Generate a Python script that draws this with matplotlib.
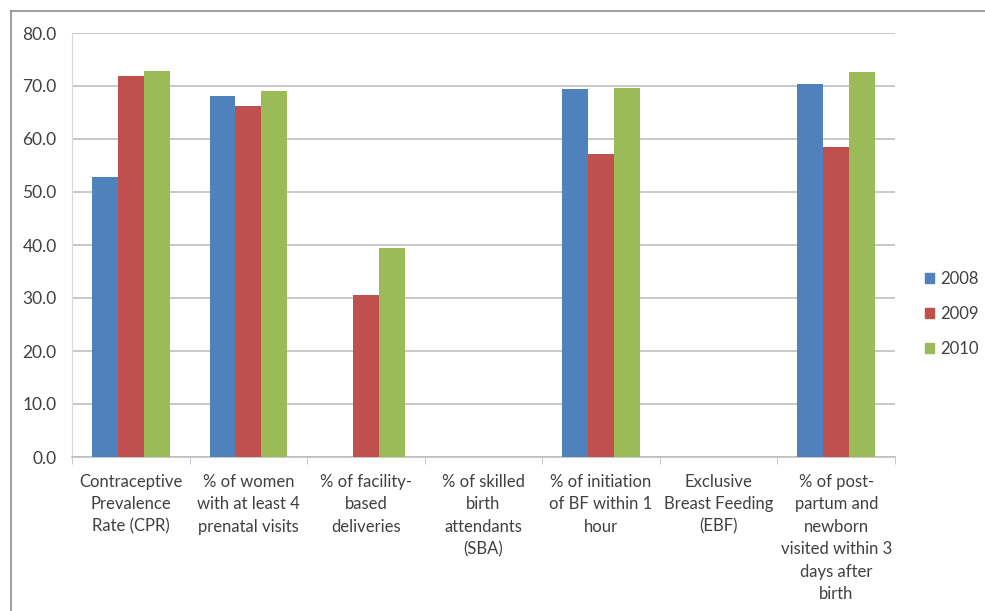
import matplotlib
matplotlib.use("Agg")
import matplotlib.pyplot as plt
import numpy as np
from matplotlib.lines import Line2D
from matplotlib.patches import Patch

categories = [
    "Contraceptive\nPrevalence\nRate (CPR)",
    "% of women\nwith at least 4\nprenatal visits",
    "% of facility-\nbased\ndeliveries",
    "% of skilled\nbirth\nattendants\n(SBA)",
    "% of initiation\nof BF within 1\nhour",
    "Exclusive\nBreast Feeding\n(EBF)",
    "% of post-\npartum and\nnewborn\nvisited within 3\ndays after\nbirth",
]
years = ["2008", "2009", "2010"]
v2008 = [52.8, 68.2, np.nan, np.nan, 69.4, np.nan, 70.3]
v2009 = [71.9, 66.2, 30.6, np.nan, 57.2, np.nan, 58.5]
v2010 = [72.8, 69.0, 39.4, np.nan, 69.6, np.nan, 72.6]
yticks = [0, 10, 20, 30, 40, 50, 60, 70, 80]

colors = ["#4F81BD", "#C0504D", "#9BBB59"]
series = [v2008, v2009, v2010]

plt.rcParams["font.family"] = ["Lato", "DejaVu Sans"]

fig = plt.figure(figsize=(9.85, 6.11), dpi=100)
ax = fig.add_axes([72 / 985, 1 - 457 / 611, (895 - 72) / 985, (457 - 33) / 611])

x = np.arange(len(categories))
w = 0.22
for i, (vals, c) in enumerate(zip(series, colors)):
    ax.bar(x + (i - 1) * w, np.nan_to_num(vals), width=w, color=c, zorder=3)

ax.set_xlim(-0.5, len(categories) - 0.5)
ax.set_ylim(0, 80)
ax.set_yticks(yticks)
ax.set_yticklabels([f"{t:.1f}" for t in yticks], fontsize=12.5, color="#404040")
ax.yaxis.grid(True, color="#BFBFBF", linewidth=1.2, zorder=0)
ax.tick_params(axis="y", length=0, pad=11)

ax.set_xticks(x)
ax.set_xticklabels(categories, fontsize=12, color="#404040", linespacing=1.5)
ax.tick_params(axis="x", length=0, pad=12)
ax.set_xticks(np.arange(-0.5, len(categories), 1), minor=True)
ax.tick_params(axis="x", which="minor", length=5, color="#BFBFBF")

for s in ["top", "right"]:
    ax.spines[s].set_visible(False)
ax.spines["left"].set_color("#D9D9D9")
ax.spines["bottom"].set_color("#BFBFBF")
ax.spines["bottom"].set_linewidth(1.2)

handles = [Patch(color=c, label=y) for c, y in zip(colors, years)]
fig.legend(handles=handles, loc="center left", bbox_to_anchor=(925 / 985, 1 - 314 / 611),
           frameon=False, fontsize=12, handlelength=0.55, handleheight=0.55,
           handletextpad=0.35, labelspacing=1.15, labelcolor="#404040",
           borderpad=0, borderaxespad=0)

# outer frame (left and top edges)
fig.add_artist(Line2D([11 / 985, 11 / 985], [0, 1 - 11 / 611], transform=fig.transFigure,
                      color="#8C8C8C", linewidth=1.2))
fig.add_artist(Line2D([11 / 985, 1], [1 - 11 / 611, 1 - 11 / 611], transform=fig.transFigure,
                      color="#8C8C8C", linewidth=1.2))

fig.savefig("out.png", dpi=100)
